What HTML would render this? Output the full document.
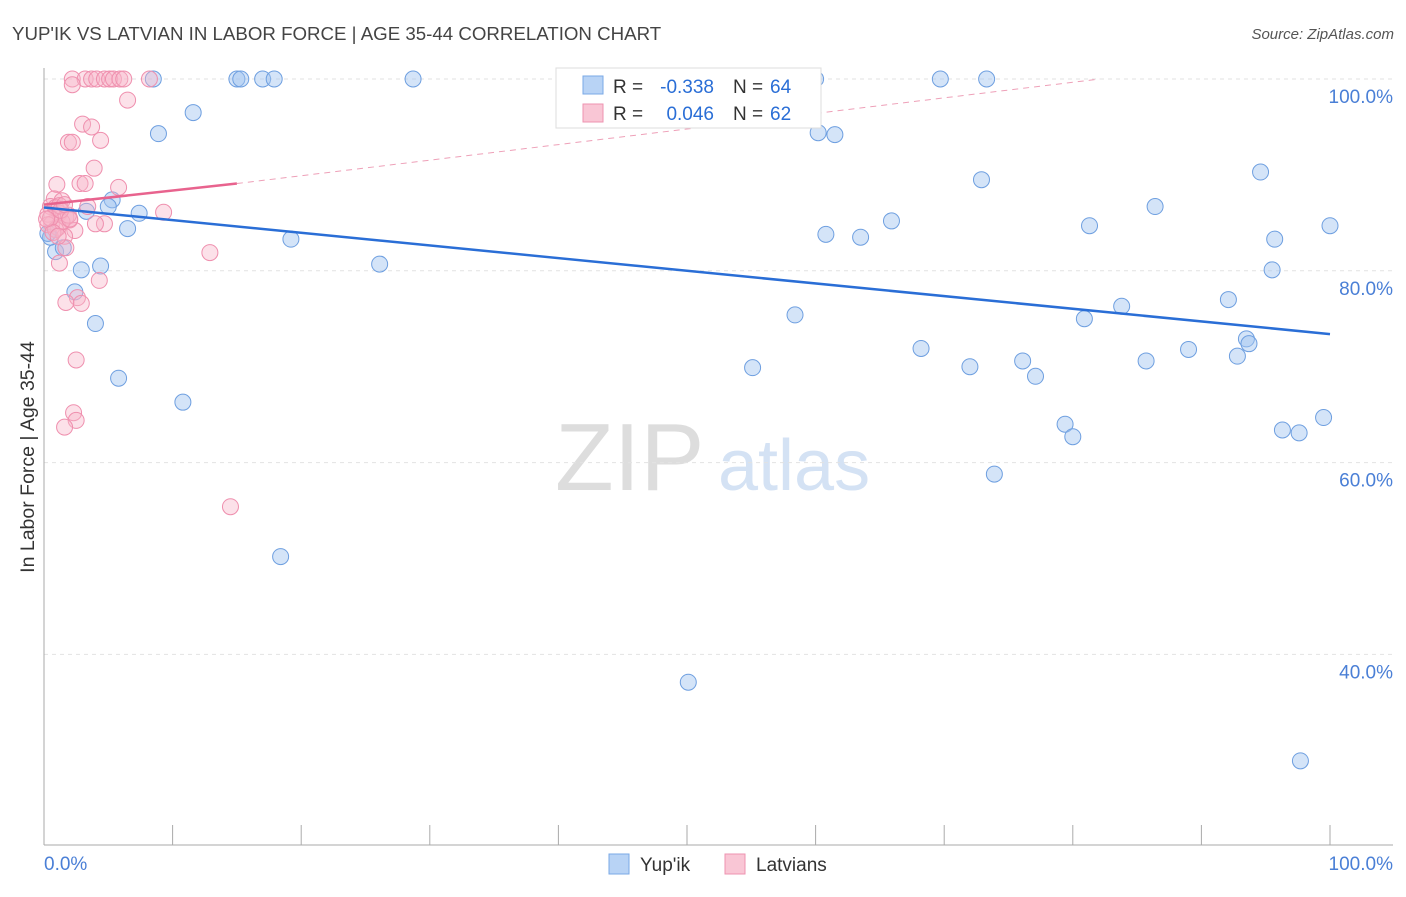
<!DOCTYPE html>
<html><head><meta charset="utf-8"><style>
body{margin:0;background:#fff;font-family:"Liberation Sans",sans-serif}
svg text{font-family:"Liberation Sans",sans-serif}
</style></head><body>
<svg id="c" width="1406" height="892">
<text x="12" y="40" font-size="18.7" fill="#444">YUP'IK VS LATVIAN IN LABOR FORCE | AGE 35-44 CORRELATION CHART</text>
<text x="1394" y="39" font-size="15" fill="#555" text-anchor="end" font-style="italic">Source: ZipAtlas.com</text>
<text x="555" y="490" font-size="96" fill="#ddd" font-family="Liberation Serif">ZIP</text>
<text x="718" y="490" font-size="72" fill="#d4e2f4">atlas</text>
<text transform="translate(34,457) rotate(-90)" font-size="19.5" fill="#333" text-anchor="middle">In Labor Force | Age 35-44</text>
<g id="grid"></g><g id="pts"></g><g id="lines"></g>
<g>
<rect x="556" y="68" width="265" height="60" fill="#fff" stroke="#ddd"/>
<rect x="583" y="76" width="20" height="18" fill="#b8d3f5" stroke="#7aa8e6"/>
<text x="613" y="93" font-size="19" fill="#333">R =</text>
<text x="714" y="93" font-size="19" fill="#2a6ed6" text-anchor="end">-0.338</text>
<text x="733" y="93" font-size="19" fill="#333">N =</text>
<text x="770" y="93" font-size="19" fill="#2a6ed6">64</text>
<rect x="583" y="104" width="20" height="18" fill="#f9c6d5" stroke="#ee93b0"/>
<text x="613" y="120" font-size="19" fill="#333">R =</text>
<text x="714" y="120" font-size="19" fill="#2a6ed6" text-anchor="end">0.046</text>
<text x="733" y="120" font-size="19" fill="#333">N =</text>
<text x="770" y="120" font-size="19" fill="#2a6ed6">62</text>
</g>
<g>
<rect x="609" y="854" width="20" height="20" fill="#b8d3f5" stroke="#7aa8e6"/>
<text x="640" y="871" font-size="19" fill="#333">Yup'ik</text>
<rect x="725" y="854" width="20" height="20" fill="#f9c6d5" stroke="#ee93b0"/>
<text x="756" y="871" font-size="19" fill="#333">Latvians</text>
</g>
</svg>
<script>
const yTicks=[100,80,60,40];
const xTickLabels=["0.0%","100.0%"];
const blueX=[8.5,15.0,15.3,17.0,17.9,28.7,41.7,60.0,69.7,73.3,11.6,8.9,60.2,61.5,72.9,94.6,5.3,5.0,3.3,7.4,6.5,100,86.4,65.9,81.3,60.8,63.5,95.7,19.2,0.9,1.5,0.5,4.4,2.9,26.1,95.5,2.4,92.1,83.8,4.0,58.4,80.9,68.2,89.0,93.5,93.7,92.8,85.7,76.1,72.0,55.1,77.1,5.8,10.8,79.4,80.0,96.3,97.6,99.5,73.9,18.4,50.1,97.7,0.3];
const blueY=[100,100,100,100,100,100,100,100,100,100,96.5,94.3,94.4,94.2,89.5,90.3,87.4,86.7,86.2,86.0,84.4,84.7,86.7,85.2,84.7,83.8,83.5,83.3,83.3,82.0,82.4,83.5,80.5,80.1,80.7,80.1,77.8,77.0,76.3,74.5,75.4,75.0,71.9,71.8,72.9,72.4,71.1,70.6,70.6,70.0,69.9,69.0,68.8,66.3,64.0,62.7,63.4,63.1,64.7,58.8,50.2,37.1,28.9,83.9];
const pinkX=[2.2,3.2,3.7,4.1,4.7,5.1,5.4,5.9,6.2,8.2,2.2,6.5,3.0,3.7,4.4,1.9,2.2,3.9,1.0,2.8,3.2,5.8,0.8,1.4,0.5,0.9,1.2,0.3,1.7,2.0,0.6,1.1,2.4,4.7,4.0,9.3,1.6,1.7,12.9,1.2,4.3,2.6,2.9,1.7,2.5,2.3,2.5,1.6,14.5,0.3,0.9,1.4,0.5,1.2,1.9,0.7,1.3,0.2,1.6,2.0,3.4,1.1];
const pinkY=[100,100,100,100,100,100,100,100,100,100,99.4,97.8,95.3,95.0,93.6,93.4,93.4,90.7,89.0,89.1,89.1,88.7,87.5,87.3,86.7,86.6,86.0,85.9,85.6,85.3,84.9,84.5,84.2,84.9,84.9,86.1,83.6,82.4,81.9,80.8,79.0,77.2,76.6,76.7,70.7,65.2,64.4,63.7,55.4,84.8,84.3,85.1,85.5,86.8,85.8,84.0,86.3,85.4,86.9,85.4,86.7,83.6];
const blueTrend=[[0,86.6],[100,73.4]];
const pinkTrend=[[0,86.9],[15,89.1]];
const pinkDash=[[15,89.1],[82.1,100]];
const sx=v=>44+v*12.86, sy=v=>79+(100-v)*9.59;
const NS="http://www.w3.org/2000/svg";
function mk(t,a,p){const e=document.createElementNS(NS,t);for(const k in a)e.setAttribute(k,a[k]);p.appendChild(e);return e;}
const g=document.getElementById('grid');
yTicks.forEach(v=>{
 const l=mk('line',{x1:44,x2:1393,y1:sy(v),y2:sy(v),stroke:'#e2e2e2','stroke-dasharray':'4,4'},g);
 
 
 const t=mk('text',{x:1393,y:sy(v)+24,'font-size':19,fill:'#4a7fd6','text-anchor':'end'},g);
 t.textContent=v.toFixed(1)+'%';
 
 
});
mk('line',{x1:44,x2:44,y1:68,y2:845,stroke:'#aaa'},g);
mk('line',{x1:44,x2:1393,y1:845,y2:845,stroke:'#aaa'},g);
for(let i=0;i<=10;i++){const x=sx(i*10);const tk=mk('line',{x1:x,x2:x,y1:825,y2:845,stroke:'#aaa'},g);
 
 }
[[44,'start',0],[1393,'end',1]].forEach(([x,a,i])=>{const t=mk('text',{x:x,y:870,'font-size':19,fill:'#4a7fd6','text-anchor':a},g);t.textContent=xTickLabels[i];
 
 });
const p=document.getElementById('pts');
blueX.forEach((v,i)=>{const c=mk('circle',{cx:sx(v),cy:sy(blueY[i]),r:8,fill:'rgba(160,195,240,0.45)',stroke:'#6e9fe0','stroke-width':1},p);
 
 });
pinkX.forEach((v,i)=>{const c=mk('circle',{cx:sx(v),cy:sy(pinkY[i]),r:8,fill:'rgba(248,180,200,0.4)',stroke:'#ef8fae','stroke-width':1},p);
 
 });
const L=document.getElementById('lines');
const b=mk('line',{x1:sx(blueTrend[0][0]),y1:sy(blueTrend[0][1]),x2:sx(blueTrend[1][0]),y2:sy(blueTrend[1][1]),stroke:'#2a6ed6','stroke-width':2.5},L);


const pl=mk('line',{x1:sx(pinkTrend[0][0]),y1:sy(pinkTrend[0][1]),x2:sx(pinkTrend[1][0]),y2:sy(pinkTrend[1][1]),stroke:'#e8638e','stroke-width':2.5},L);


const pd=mk('line',{x1:sx(pinkDash[0][0]),y1:sy(pinkDash[0][1]),x2:sx(pinkDash[1][0]),y2:sy(pinkDash[1][1]),stroke:'#eea0b8','stroke-width':1,'stroke-dasharray':'6,5'},L);


</script>
</body></html>
